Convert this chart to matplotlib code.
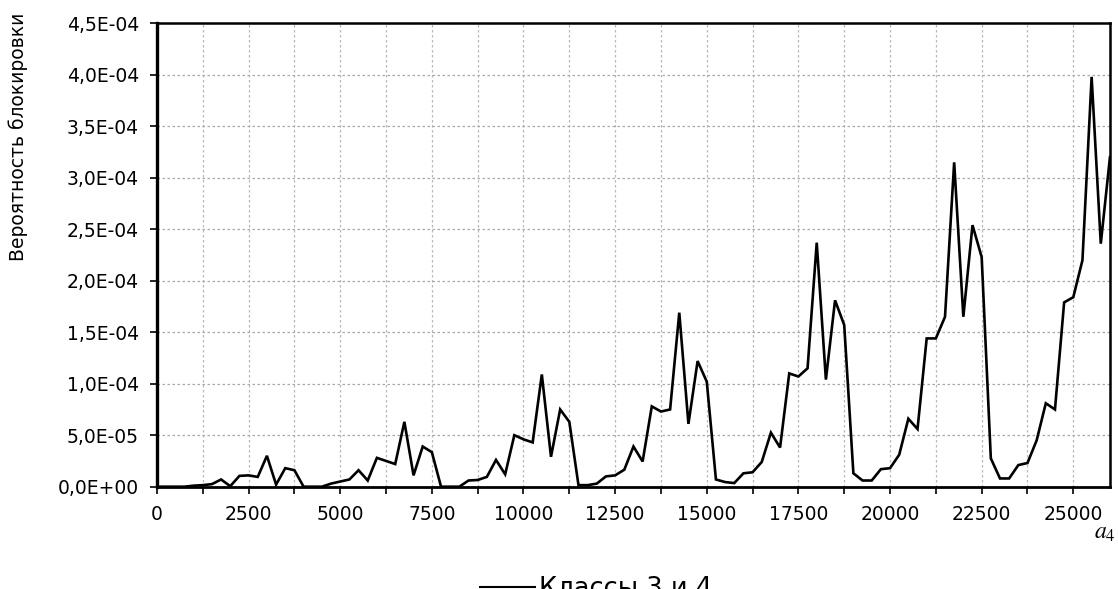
import matplotlib

matplotlib.use("Agg")
import matplotlib.pyplot as plt
from matplotlib.lines import Line2D
from matplotlib.ticker import FuncFormatter, MultipleLocator

# Offered load a4 (step 250) and blocking probability for classes 3 and 4
a4 = [
    0, 250, 500, 750, 1000, 1250, 1500, 1750, 2000, 2250, 2500, 2750,
    3000, 3250, 3500, 3750, 4000, 4250, 4500, 4750, 5000, 5250, 5500, 5750,
    6000, 6250, 6500, 6750, 7000, 7250, 7500, 7750, 8000, 8250, 8500, 8750,
    9000, 9250, 9500, 9750, 10000, 10250, 10500, 10750, 11000, 11250, 11500, 11750,
    12000, 12250, 12500, 12750, 13000, 13250, 13500, 13750, 14000, 14250, 14500, 14750,
    15000, 15250, 15500, 15750, 16000, 16250, 16500, 16750, 17000, 17250, 17500, 17750,
    18000, 18250, 18500, 18750, 19000, 19250, 19500, 19750, 20000, 20250, 20500, 20750,
    21000, 21250, 21500, 21750, 22000, 22250, 22500, 22750, 23000, 23250, 23500, 23750,
    24000, 24250, 24500, 24750, 25000, 25250, 25500, 25750, 26000,
]
p_block = [
    0, 0, 0, 0,
    1.0e-6, 1.5e-6, 2.5e-6, 7.0e-6,
    0.5e-6, 1.05e-5, 1.1e-5, 9.5e-6,
    3.0e-5, 2.0e-6, 1.8e-5, 1.6e-5,
    0, 0, 0, 3.0e-6,
    5.0e-6, 7.0e-6, 1.6e-5, 6.0e-6,
    2.8e-5, 2.5e-5, 2.2e-5, 6.3e-5,
    1.1e-5, 3.9e-5, 3.35e-5, 0,
    0, 0, 6.0e-6, 6.5e-6,
    9.5e-6, 2.6e-5, 1.2e-5, 5.0e-5,
    4.6e-5, 4.3e-5, 1.09e-4, 2.9e-5,
    7.5e-5, 6.3e-5, 1.5e-6, 1.5e-6,
    3.0e-6, 1.0e-5, 1.1e-5, 1.65e-5,
    3.9e-5, 2.45e-5, 7.8e-5, 7.3e-5,
    7.5e-5, 1.69e-4, 6.1e-5, 1.22e-4,
    1.02e-4, 7.0e-6, 4.5e-6, 3.5e-6,
    1.3e-5, 1.4e-5, 2.4e-5, 5.25e-5,
    3.8e-5, 1.1e-4, 1.07e-4, 1.15e-4,
    2.37e-4, 1.04e-4, 1.81e-4, 1.57e-4,
    1.3e-5, 6.0e-6, 6.0e-6, 1.7e-5,
    1.8e-5, 3.1e-5, 6.6e-5, 5.6e-5,
    1.44e-4, 1.44e-4, 1.65e-4, 3.15e-4,
    1.65e-4, 2.54e-4, 2.23e-4, 2.75e-5,
    8.0e-6, 8.0e-6, 2.1e-5, 2.3e-5,
    4.5e-5, 8.1e-5, 7.5e-5, 1.79e-4,
    1.84e-4, 2.2e-4, 3.98e-4, 2.36e-4,
    3.2e-4,
]
series_label = "Классы 3 и 4"
y_title = "Вероятность блокировки"

plt.rcParams["font.family"] = "DejaVu Sans"
plt.rcParams["mathtext.fontset"] = "stix"

fig = plt.figure(figsize=(11.18, 5.89), dpi=100)
ax = fig.add_axes([0.1404, 0.1737, 0.8524, 0.7867])

ax.plot(a4, p_block, color="black", linewidth=1.9, solid_joinstyle="miter")

ax.set_xlim(0, 26000)
ax.set_ylim(0, 4.5e-4)
ax.xaxis.set_major_locator(MultipleLocator(2500))
ax.xaxis.set_minor_locator(MultipleLocator(1250))
ax.yaxis.set_major_locator(MultipleLocator(0.5e-4))
ax.yaxis.set_major_formatter(FuncFormatter(lambda v, _: f"{v:.1E}".replace(".", ",")))

ax.tick_params(axis="both", which="both", direction="out", length=5, width=1.2,
               labelsize=13.5, colors="black")
ax.tick_params(axis="x", pad=8)
ax.tick_params(axis="y", pad=8)

ax.grid(True, axis="y", which="major", color="#a8a8a8", linewidth=0.9, linestyle=(0, (2, 2)))
ax.grid(True, axis="x", which="both", color="#b8b8b8", linewidth=0.9, linestyle=(0, (2, 2)))
ax.set_axisbelow(True)

for side, lw in (("left", 2.4), ("bottom", 2.0), ("top", 1.8), ("right", 1.8)):
    ax.spines[side].set_linewidth(lw)
    ax.spines[side].set_color("black")

fig.text(0.016, 0.767, y_title, rotation=90, ha="center", va="center", fontsize=13.5)
# axis symbol sits under the right end of the x axis, just below the tick labels
fig.text(0.988, 0.096, r"$a_4$", ha="center", va="center", fontsize=17, style="italic")

handle = Line2D([], [], color="black", linewidth=1.5)
fig.legend([handle], [series_label], loc="center", bbox_to_anchor=(0.533, 0.0),
           frameon=False, fontsize=18.5, handlelength=2.15, handletextpad=0.15)

fig.savefig("out.png", dpi=100)
plt.close(fig)
